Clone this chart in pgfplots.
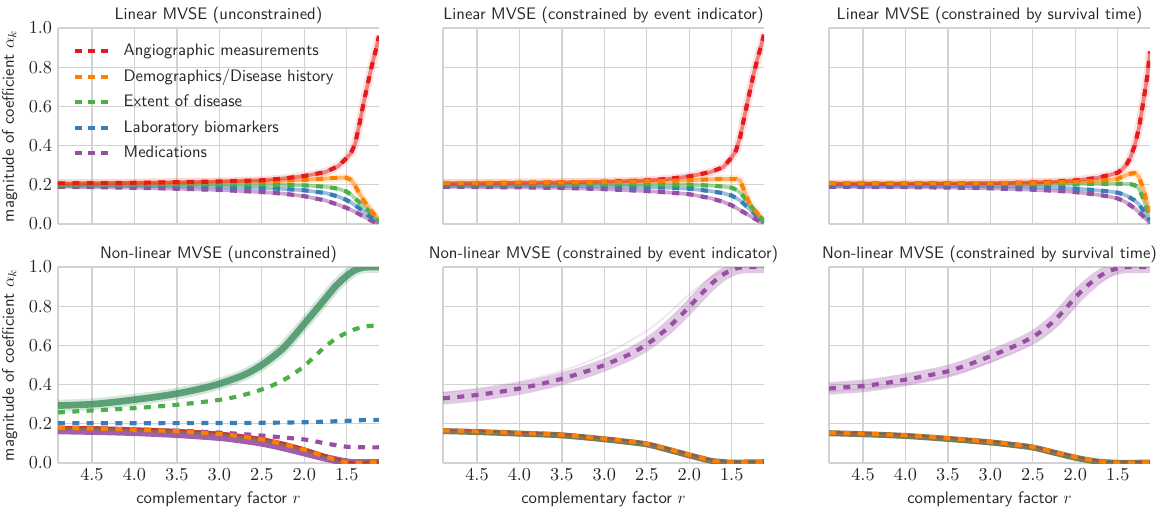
\documentclass[border=0pt]{standalone}
\usepackage{pgfplots}
\usepackage{pgfplotstable}
\pgfplotsset{compat=1.18}
\definecolor{cred}{HTML}{E41A1C}
\definecolor{corange}{HTML}{FF7F00}
\definecolor{cgreen}{HTML}{4DAF4A}
\definecolor{cblue}{HTML}{377EB8}
\definecolor{cpurple}{HTML}{984EA3}
\definecolor{cband}{HTML}{3E8E5E}
\definecolor{colive}{HTML}{787A58}
\definecolor{cbrown}{HTML}{8A6A5E}
\definecolor{gridc}{HTML}{D2D2D2}
\definecolor{txt}{HTML}{262626}

\pgfplotstableread{
r     red   orange green blue  purple
4.9   .207  .207  .200  .195  .190
4.5   .208  .208  .201  .195  .188
4.0   .210  .209  .202  .195  .185
3.5   .213  .211  .203  .193  .180
3.0   .217  .214  .203  .190  .174
2.5   .223  .218  .201  .184  .163
2.25  .232  .221  .199  .179  .155
2.0   .245  .225  .197  .172  .142
1.75  .265  .232  .190  .158  .120
1.6   .295  .236  .180  .140  .098
1.5   .337  .236  .165  .122  .082
1.45  .362  .225  .150  .110  .072
1.4   .410  .195  .130  .095  .062
1.35  .510  .155  .110  .080  .050
1.3   .620  .120  .090  .063  .038
1.25  .720  .090  .070  .045  .027
1.2   .815  .062  .050  .030  .015
1.15  .900  .037  .025  .014  .005
1.12  .960  .022  .012  .006  .000
}\Pone

\pgfplotstableread{
r     red   orange green blue  purple
4.9   .207  .209  .202  .195  .190
4.5   .208  .210  .202  .195  .189
4.0   .210  .211  .202  .195  .187
3.5   .212  .212  .202  .194  .184
3.0   .216  .214  .202  .192  .178
2.5   .222  .218  .202  .188  .168
2.25  .230  .220  .201  .185  .161
2.0   .243  .223  .200  .180  .152
1.75  .265  .228  .196  .168  .132
1.6   .290  .230  .191  .157  .113
1.5   .340  .230  .185  .145  .095
1.45  .375  .230  .175  .133  .083
1.4   .445  .222  .160  .120  .070
1.35  .550  .165  .135  .100  .058
1.3   .650  .115  .105  .080  .045
1.25  .750  .082  .078  .060  .032
1.2   .838  .055  .050  .040  .020
1.15  .915  .032  .028  .020  .008
1.12  .966  .020  .015  .010  .000
}\Ptwo

\pgfplotstableread{
r     red   orange green blue  purple
4.9   .205  .207  .205  .195  .190
4.5   .205  .207  .205  .195  .189
4.0   .206  .207  .205  .195  .188
3.5   .207  .207  .205  .194  .186
3.0   .208  .208  .205  .193  .182
2.5   .212  .210  .205  .190  .175
2.25  .216  .212  .205  .186  .170
2.0   .222  .215  .205  .181  .163
1.75  .235  .220  .205  .172  .150
1.6   .250  .225  .205  .166  .140
1.5   .262  .230  .205  .160  .130
1.45  .278  .240  .205  .153  .121
1.4   .300  .250  .205  .145  .110
1.35  .340  .257  .203  .133  .095
1.3   .400  .260  .198  .120  .080
1.25  .490  .240  .180  .100  .060
1.2   .620  .180  .130  .070  .040
1.15  .760  .100  .070  .035  .015
1.12  .880  .060  .040  .015  .002
}\Pthree

\pgfplotsset{
  panel/.style={
    width=192.6pt, height=117.6pt, scale only axis,
    x dir=reverse, xmin=1.12, xmax=4.9, ymin=0, ymax=1,
    xtick={1.5,2,2.5,3,3.5,4,4.5}, ytick={0,0.2,0.4,0.6,0.8,1.0},
    grid=major, major grid style={gridc, line width=0.8pt},
    axis x line*=bottom, axis y line*=left,
    axis line style={gridc, line width=0.8pt},
    major tick length=0pt,
    tick label style={font=\fontsize{10.5}{12}\selectfont, text=txt},
    xticklabel style={/pgf/number format/fixed, /pgf/number format/fixed zerofill, /pgf/number format/precision=1},
    yticklabel style={/pgf/number format/fixed, /pgf/number format/fixed zerofill, /pgf/number format/precision=1},
    title style={font=\sffamily\fontsize{10}{12}\selectfont, text=txt, yshift=-7.2pt},
    label style={font=\sffamily\fontsize{10}{12}\selectfont, text=txt},
    anchor=south west,
  },
  dsh/.style={line width=2.5pt, dash pattern=on 4.2pt off 4.4pt},
  und/.style={line width=2.2pt, opacity=0.5, forget plot},
  wide/.style={line width=5pt, opacity=0.12, forget plot},
}

\begin{document}
\begin{tikzpicture}

% ---------- Panel 1 ----------
\begin{axis}[panel, at={(34.8pt,-134.4pt)},
  title={Linear MVSE (unconstrained)},
  ylabel={magnitude of coefficient $\alpha_k$},
  xticklabels={},
  legend cell align=left,
  legend style={at={(0.03,0.95)}, anchor=north west, draw=none, fill=none,
    font=\sffamily\fontsize{10}{12}\selectfont, text=txt, row sep=3.3pt,
    nodes={inner sep=1pt, text height=7.5pt, text depth=2.5pt}},
  legend image code/.code={\draw[#1, line width=2.4pt, dash pattern=on 4.2pt off 3.6pt] (0pt,0pt) -- (19.8pt,0pt); \path (27pt,0pt);},
]
\addplot[wide, cred] table[x=r,y=red]{\Pone};
\addplot[wide, corange] table[x=r,y=orange]{\Pone};
\addplot[und, cpurple] table[x=r,y=purple]{\Pone};
\addplot[und, cblue] table[x=r,y=blue]{\Pone};
\addplot[und, cgreen] table[x=r,y=green]{\Pone};
\addplot[und, corange] table[x=r,y=orange]{\Pone};
\addplot[und, cred] table[x=r,y=red]{\Pone};
\addplot[dsh, cpurple, forget plot] table[x=r,y=purple]{\Pone};
\addplot[dsh, cblue, forget plot] table[x=r,y=blue]{\Pone};
\addplot[dsh, cgreen, forget plot] table[x=r,y=green]{\Pone};
\addplot[dsh, corange, forget plot] table[x=r,y=orange]{\Pone};
\addplot[dsh, cred, forget plot] table[x=r,y=red]{\Pone};
\addlegendimage{dsh, cred}\addlegendentry{Angiographic measurements}
\addlegendimage{dsh, corange}\addlegendentry{Demographics/Disease history}
\addlegendimage{dsh, cgreen}\addlegendentry{Extent of disease}
\addlegendimage{dsh, cblue}\addlegendentry{Laboratory biomarkers}
\addlegendimage{dsh, cpurple}\addlegendentry{Medications}
\end{axis}

% ---------- Panel 2 ----------
\begin{axis}[panel, at={(265.8pt,-134.4pt)},
  title={Linear MVSE (constrained by event indicator)},
  xticklabels={}, yticklabels={},
]
\addplot[wide, cred] table[x=r,y=red]{\Ptwo};
\addplot[wide, corange] table[x=r,y=orange]{\Ptwo};
\addplot[und, cpurple] table[x=r,y=purple]{\Ptwo};
\addplot[und, cblue] table[x=r,y=blue]{\Ptwo};
\addplot[und, cgreen] table[x=r,y=green]{\Ptwo};
\addplot[und, corange] table[x=r,y=orange]{\Ptwo};
\addplot[und, cred] table[x=r,y=red]{\Ptwo};
\addplot[dsh, cpurple] table[x=r,y=purple]{\Ptwo};
\addplot[dsh, cblue] table[x=r,y=blue]{\Ptwo};
\addplot[dsh, cgreen] table[x=r,y=green]{\Ptwo};
\addplot[dsh, cred] table[x=r,y=red]{\Ptwo};
\addplot[dsh, corange] table[x=r,y=orange]{\Ptwo};
\end{axis}

% ---------- Panel 3 ----------
\begin{axis}[panel, at={(497.4pt,-134.4pt)},
  title={Linear MVSE (constrained by survival time)},
  xticklabels={}, yticklabels={},
]
\addplot[wide, cred] table[x=r,y=red]{\Pthree};
\addplot[wide, corange] table[x=r,y=orange]{\Pthree};
\addplot[und, cpurple] table[x=r,y=purple]{\Pthree};
\addplot[und, cblue] table[x=r,y=blue]{\Pthree};
\addplot[und, cgreen] table[x=r,y=green]{\Pthree};
\addplot[und, corange] table[x=r,y=orange]{\Pthree};
\addplot[und, cred] table[x=r,y=red]{\Pthree};
\addplot[dsh, cpurple] table[x=r,y=purple]{\Pthree};
\addplot[dsh, cblue] table[x=r,y=blue]{\Pthree};
\addplot[dsh, cgreen] table[x=r,y=green]{\Pthree};
\addplot[dsh, cred] table[x=r,y=red]{\Pthree};
\addplot[dsh, corange] table[x=r,y=orange]{\Pthree};
\end{axis}

% ---------- Panel 4 ----------
\begin{axis}[panel, at={(34.8pt,-277.8pt)},
  title={Non-linear MVSE (unconstrained)},
  ylabel={magnitude of coefficient $\alpha_k$},
  xlabel={complementary factor $r$},
]
\addplot[smooth, cband, line width=7pt, opacity=0.22] coordinates {(4.9,.293)(4.75,.295)(4.5,.300)(4.25,.310)(4.0,.323)(3.75,.337)(3.5,.354)(3.25,.376)(3.0,.404)(2.75,.442)(2.625,.468)(2.5,.50)(2.375,.54)(2.25,.585)(2.125,.645)(2.0,.71)(1.875,.775)(1.75,.84)(1.625,.905)(1.5,.955)(1.4,.985)(1.3,.998)(1.2,1.0)(1.12,1.0)};
\addplot[smooth, cband, line width=4pt, opacity=0.8] coordinates {(4.9,.293)(4.75,.295)(4.5,.300)(4.25,.310)(4.0,.323)(3.75,.337)(3.5,.354)(3.25,.376)(3.0,.404)(2.75,.442)(2.625,.468)(2.5,.50)(2.375,.54)(2.25,.585)(2.125,.645)(2.0,.71)(1.875,.775)(1.75,.84)(1.625,.905)(1.5,.955)(1.4,.985)(1.3,.998)(1.2,1.0)(1.12,1.0)};
\addplot[smooth, cpurple, line width=4.6pt, opacity=0.9] coordinates {(4.9,.166)(4.5,.163)(4.0,.157)(3.5,.147)(3.0,.132)(2.75,.119)(2.5,.103)(2.25,.08)(2.0,.053)(1.75,.026)(1.6,.012)(1.5,.004)(1.4,0)(1.12,0)};
\addplot[smooth, cbrown, line width=2.6pt] coordinates {(4.9,.178)(4.5,.176)(4.0,.170)(3.5,.162)(3.0,.148)(2.75,.136)(2.5,.12)(2.25,.097)(2.0,.068)(1.75,.033)(1.6,.013)(1.5,.003)(1.4,0)(1.12,.005)};
\addplot[smooth, cred, line width=1pt, opacity=0.7] coordinates {(4.9,.186)(4.5,.184)(4.0,.178)(3.5,.170)(3.0,.156)(2.75,.144)(2.5,.128)(2.25,.105)(2.0,.076)(1.75,.041)(1.6,.02)(1.5,.009)(1.4,.004)(1.12,.006)};
\addplot[smooth, dsh, cgreen] coordinates {(4.9,.258)(4.5,.268)(4.0,.28)(3.5,.297)(3.0,.322)(2.75,.343)(2.5,.375)(2.375,.396)(2.25,.422)(2.125,.455)(2.0,.495)(1.875,.545)(1.75,.595)(1.625,.635)(1.5,.665)(1.4,.683)(1.3,.695)(1.2,.70)(1.12,.70)};
\addplot[smooth, dsh, cblue] coordinates {(4.9,.203)(4.0,.203)(3.0,.204)(2.5,.205)(2.0,.208)(1.75,.211)(1.5,.215)(1.3,.219)(1.12,.22)};
\addplot[smooth, dsh, cpurple] coordinates {(4.9,.178)(4.5,.176)(4.0,.172)(3.5,.165)(3.0,.155)(2.75,.148)(2.5,.14)(2.25,.13)(2.0,.12)(1.75,.10)(1.6,.089)(1.5,.083)(1.3,.08)(1.12,.08)};
\addplot[smooth, dsh, corange] coordinates {(4.9,.178)(4.5,.176)(4.0,.170)(3.5,.162)(3.0,.148)(2.75,.136)(2.5,.12)(2.25,.097)(2.0,.068)(1.75,.033)(1.6,.013)(1.5,.003)(1.4,0)(1.12,.005)};
\end{axis}

% ---------- Panel 5 ----------
\begin{axis}[panel, at={(265.8pt,-277.8pt)},
  title={Non-linear MVSE (constrained by event indicator)},
  yticklabels={},
  xlabel={complementary factor $r$},
]
\addplot[smooth, cpurple, line width=7.5pt, opacity=0.3] coordinates {(4.9,.33)(4.75,.336)(4.5,.347)(4.25,.362)(4.0,.38)(3.75,.403)(3.5,.43)(3.25,.462)(3.0,.50)(2.75,.545)(2.625,.573)(2.5,.605)(2.375,.645)(2.25,.69)(2.125,.742)(2.0,.797)(1.875,.855)(1.75,.91)(1.625,.955)(1.5,.985)(1.4,.997)(1.3,1.0)(1.12,1.0)};
\addplot[smooth, cpurple, line width=1pt, opacity=0.15] coordinates {(4.9,.36)(4.75,.367)(4.5,.38)(4.25,.396)(4.0,.415)(3.75,.44)(3.5,.47)(3.25,.508)(3.0,.555)(2.75,.61)(2.5,.675)(2.375,.715)(2.25,.76)(2.125,.81)(2.0,.86)(1.875,.905)(1.75,.945)(1.625,.975)(1.5,.993)(1.4,1.0)(1.12,1.0)};
\addplot[smooth, colive, line width=3.6pt] coordinates {(4.9,.163)(4.5,.158)(4.0,.150)(3.5,.141)(3.0,.121)(2.75,.109)(2.5,.095)(2.25,.068)(2.0,.039)(1.75,.012)(1.6,.005)(1.5,.002)(1.12,.004)};
\addplot[smooth, cred, line width=0.8pt, opacity=0.5] coordinates {(4.9,.170)(4.5,.165)(4.0,.157)(3.5,.148)(3.0,.128)(2.75,.116)(2.5,.102)(2.25,.075)(2.0,.046)(1.75,.018)(1.6,.01)(1.5,.006)(1.12,.007)};
\addplot[smooth, dsh, cpurple] coordinates {(4.9,.33)(4.75,.336)(4.5,.347)(4.25,.362)(4.0,.38)(3.75,.403)(3.5,.43)(3.25,.462)(3.0,.50)(2.75,.545)(2.625,.573)(2.5,.605)(2.375,.645)(2.25,.69)(2.125,.742)(2.0,.797)(1.875,.855)(1.75,.91)(1.625,.955)(1.5,.985)(1.4,.997)(1.3,1.0)(1.12,1.0)};
\addplot[smooth, dsh, corange] coordinates {(4.9,.166)(4.5,.161)(4.0,.153)(3.5,.144)(3.0,.124)(2.75,.112)(2.5,.098)(2.25,.071)(2.0,.042)(1.75,.014)(1.6,.007)(1.5,.003)(1.12,.005)};
\end{axis}

% ---------- Panel 6 ----------
\begin{axis}[panel, at={(497.4pt,-277.8pt)},
  title={Non-linear MVSE (constrained by survival time)},
  yticklabels={},
  xlabel={complementary factor $r$},
]
\addplot[smooth, cpurple, line width=7.5pt, opacity=0.3] coordinates {(4.9,.38)(4.75,.385)(4.5,.393)(4.25,.407)(4.0,.425)(3.75,.445)(3.5,.468)(3.25,.503)(3.0,.545)(2.75,.59)(2.625,.615)(2.5,.643)(2.375,.68)(2.25,.725)(2.125,.782)(2.0,.845)(1.875,.898)(1.75,.942)(1.625,.975)(1.5,.993)(1.4,1.0)(1.12,1.0)};
\addplot[smooth, cpurple, line width=1pt, opacity=0.15] coordinates {(4.9,.365)(4.75,.37)(4.5,.378)(4.25,.39)(4.0,.405)(3.75,.423)(3.5,.445)(3.25,.477)(3.0,.515)(2.75,.557)(2.5,.605)(2.375,.64)(2.25,.683)(2.125,.735)(2.0,.795)(1.875,.85)(1.75,.90)(1.625,.945)(1.5,.975)(1.4,.993)(1.3,1.0)(1.12,1.0)};
\addplot[smooth, colive, line width=3.6pt] coordinates {(4.9,.152)(4.5,.147)(4.0,.138)(3.5,.123)(3.0,.105)(2.75,.093)(2.5,.079)(2.25,.053)(2.0,.027)(1.75,.008)(1.5,.001)(1.12,.002)};
\addplot[smooth, cred, line width=0.8pt, opacity=0.5] coordinates {(4.9,.159)(4.5,.154)(4.0,.145)(3.5,.130)(3.0,.112)(2.75,.100)(2.5,.086)(2.25,.060)(2.0,.034)(1.75,.014)(1.5,.006)(1.12,.006)};
\addplot[smooth, dsh, cpurple] coordinates {(4.9,.38)(4.75,.385)(4.5,.393)(4.25,.407)(4.0,.425)(3.75,.445)(3.5,.468)(3.25,.503)(3.0,.545)(2.75,.59)(2.625,.615)(2.5,.643)(2.375,.68)(2.25,.725)(2.125,.782)(2.0,.845)(1.875,.898)(1.75,.942)(1.625,.975)(1.5,.993)(1.4,1.0)(1.12,1.0)};
\addplot[smooth, dsh, corange] coordinates {(4.9,.155)(4.5,.150)(4.0,.141)(3.5,.126)(3.0,.108)(2.75,.096)(2.5,.082)(2.25,.056)(2.0,.030)(1.75,.010)(1.5,.002)(1.12,.003)};
\end{axis}

\pgfresetboundingbox
\useasboundingbox (0pt,0pt) rectangle (699pt,-307.2pt);
\end{tikzpicture}
\end{document}
